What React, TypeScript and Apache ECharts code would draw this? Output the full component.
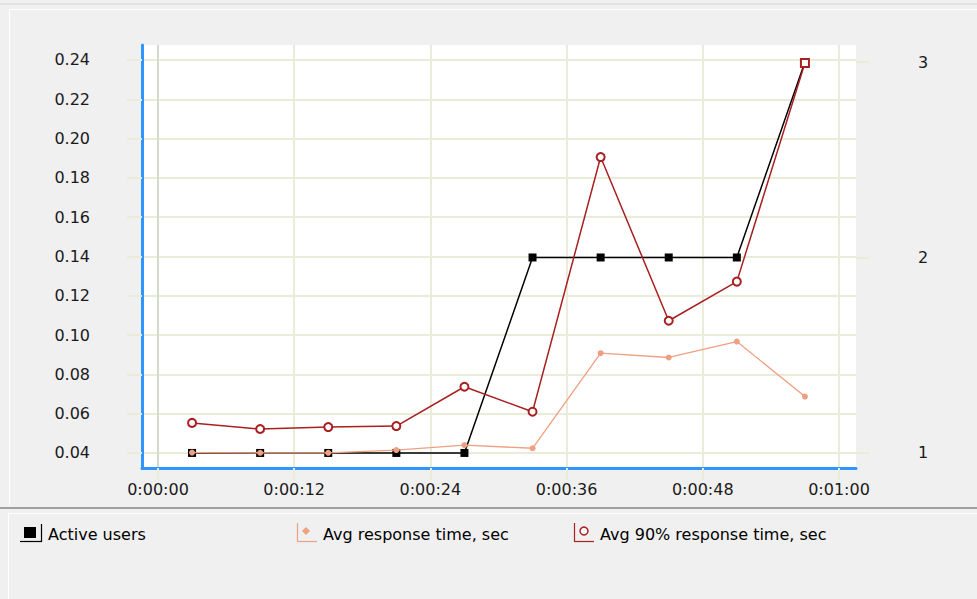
import React, { useEffect, useRef } from "react";
import * as echarts from "echarts";

const timeSec = [3, 9, 15, 21, 27, 33, 39, 45, 51, 57];
const activeUsers = [1, 1, 1, 1, 1, 2, 2, 2, 2, 3];
const avgResponse = [0.0402, 0.0401, 0.0401, 0.0415, 0.044, 0.0424, 0.0908, 0.0886, 0.0967, 0.0687];
const avg90Response = [0.0553, 0.0522, 0.0532, 0.0537, 0.0737, 0.061, 0.1906, 0.1073, 0.1272, 0.2385];
const xTicks = [0, 12, 24, 36, 48, 60];
const leftTicks = [0.04, 0.06, 0.08, 0.1, 0.12, 0.14, 0.16, 0.18, 0.2, 0.22, 0.24];
const rightTicks = [1, 2, 3];
const seriesNames = ["Active users", "Avg response time, sec", "Avg 90% response time, sec"];

const FONT = "DejaVu Sans";
const GRID_COLOR = "#ebebd9";
const BLACK = "#000000";
const SALMON = "#ef9f82";
const DARKRED = "#a8201f";
const AXIS_BLUE = "#2f96ff";

function fmtTime(v: number) {
  const s = Math.round(v);
  const h = Math.floor(s / 3600);
  const m = Math.floor((s % 3600) / 60);
  const sec = s % 60;
  return `${h}:${String(m).padStart(2, "0")}:${String(sec).padStart(2, "0")}`;
}

export default function App() {
  const ref = useRef<HTMLDivElement>(null);
  useEffect(() => {
    if (!ref.current) return;
    const chart = echarts.init(ref.current, null, { renderer: "svg" });
    const pair = (vals: number[]) => timeSec.map((t, i) => [t, vals[i]]);
    const red90 = timeSec.map((t, i) =>
      i === timeSec.length - 1
        ? { value: [t, avg90Response[i]], symbol: "emptyRect", symbolSize: 8 }
        : { value: [t, avg90Response[i]] }
    );
    const legendText = (x: number, text: string) => ({
      type: "text",
      x,
      y: 534,
      style: { text, fill: "#000", font: `16px "${FONT}"`, textVerticalAlign: "middle" },
    });
    chart.setOption({
      animation: false,
      backgroundColor: "#f0f0f0",
      textStyle: { fontFamily: FONT },
      grid: {
        left: 142,
        right: 121,
        top: 45,
        bottom: 131,
        show: true,
        backgroundColor: "#ffffff",
        borderWidth: 0,
      },
      xAxis: {
        type: "value",
        min: -1.41,
        max: 61.5,
        axisLine: { show: true, onZero: false, lineStyle: { color: AXIS_BLUE, width: 3 } },
        axisTick: { show: true, length: 12, customValues: xTicks, lineStyle: { color: GRID_COLOR, width: 2 } },
        axisLabel: {
          customValues: xTicks,
          formatter: (v: number) => fmtTime(v),
          color: "#1a1a1a",
          fontSize: 16,
          fontFamily: FONT,
          margin: 13,
        },
        splitLine: { show: true, lineStyle: { color: ["#d3dccb", GRID_COLOR, GRID_COLOR, GRID_COLOR, GRID_COLOR, GRID_COLOR], width: 2 } },
      },
      yAxis: [
        {
          type: "value",
          position: "left",
          min: 0.03236,
          max: 0.24763,
          axisLine: { show: true, onZero: false, lineStyle: { color: AXIS_BLUE, width: 3 } },
          axisTick: { show: true, length: 15, customValues: leftTicks, lineStyle: { color: GRID_COLOR, width: 2 } },
          axisLabel: {
            customValues: leftTicks,
            formatter: (v: number) => v.toFixed(2),
            color: "#1a1a1a",
            fontSize: 16,
            fontFamily: FONT,
            margin: 52,
          },
          splitLine: { show: true, lineStyle: { color: GRID_COLOR, width: 2 } },
        },
        {
          type: "value",
          position: "right",
          min: 0.923,
          max: 3.087,
          axisLine: { show: false, onZero: false },
          axisTick: { show: true, length: 13, customValues: rightTicks, lineStyle: { color: GRID_COLOR, width: 2 } },
          axisLabel: {
            customValues: rightTicks,
            color: "#1a1a1a",
            fontSize: 16,
            fontFamily: FONT,
            margin: 62,
          },
          splitLine: { show: false },
        },
      ],
      series: [
        {
          name: seriesNames[0],
          type: "line",
          yAxisIndex: 1,
          data: pair(activeUsers),
          symbol: "rect",
          symbolSize: 8,
          lineStyle: { color: BLACK, width: 1.5 },
          itemStyle: { color: BLACK },
          z: 2,
        },
        {
          name: seriesNames[1],
          type: "line",
          yAxisIndex: 0,
          data: pair(avgResponse),
          symbol: "circle",
          symbolSize: 6,
          lineStyle: { color: SALMON, width: 1.3 },
          itemStyle: { color: SALMON },
          z: 3,
        },
        {
          name: seriesNames[2],
          type: "line",
          yAxisIndex: 0,
          data: red90,
          symbol: "emptyCircle",
          symbolSize: 8,
          lineStyle: { color: DARKRED, width: 1.5 },
          itemStyle: { color: DARKRED, borderColor: DARKRED, borderWidth: 1.3 },
          z: 4,
        },
      ],
      graphic: [
        { type: "line", shape: { x1: 0, y1: 4, x2: 977, y2: 4 }, style: { stroke: "#e2e2e2", lineWidth: 2 }, silent: true },
        { type: "line", shape: { x1: 9, y1: 9.5, x2: 977, y2: 9.5 }, style: { stroke: "#ffffff", lineWidth: 1 }, silent: true },
        { type: "line", shape: { x1: 9.5, y1: 9, x2: 9.5, y2: 505 }, style: { stroke: "#ffffff", lineWidth: 1 }, silent: true },
        { type: "line", shape: { x1: 0, y1: 508, x2: 977, y2: 508 }, style: { stroke: "#a0a0a0", lineWidth: 2 }, silent: true },
        { type: "line", shape: { x1: 8, y1: 513.5, x2: 977, y2: 513.5 }, style: { stroke: "#ffffff", lineWidth: 1 }, silent: true },
        { type: "line", shape: { x1: 8.5, y1: 513, x2: 8.5, y2: 599 }, style: { stroke: "#ffffff", lineWidth: 1 }, silent: true },
        // legend item 1
        { type: "rect", shape: { x: 24, y: 527, width: 12, height: 11 }, style: { fill: BLACK } },
        { type: "line", shape: { x1: 41.5, y1: 524, x2: 41.5, y2: 542 }, style: { stroke: BLACK, lineWidth: 1.2 } },
        { type: "line", shape: { x1: 20, y1: 541.5, x2: 42, y2: 541.5 }, style: { stroke: BLACK, lineWidth: 1.2 } },
        legendText(48, seriesNames[0]),
        // legend item 2
        { type: "line", shape: { x1: 297.5, y1: 523, x2: 297.5, y2: 542 }, style: { stroke: SALMON, lineWidth: 1.2 } },
        { type: "line", shape: { x1: 297, y1: 541.5, x2: 317, y2: 541.5 }, style: { stroke: SALMON, lineWidth: 1.2 } },
        { type: "polygon", shape: { points: [[306, 527], [310, 531], [306, 535], [302, 531]] }, style: { fill: SALMON } },
        legendText(323, seriesNames[1]),
        // legend item 3
        { type: "line", shape: { x1: 574.5, y1: 523, x2: 574.5, y2: 542 }, style: { stroke: DARKRED, lineWidth: 1.2 } },
        { type: "line", shape: { x1: 574, y1: 541.5, x2: 594, y2: 541.5 }, style: { stroke: DARKRED, lineWidth: 1.2 } },
        { type: "circle", shape: { cx: 584, cy: 531, r: 4 }, style: { fill: "#ffffff", stroke: DARKRED, lineWidth: 1.5 } },
        legendText(600, seriesNames[2]),
      ],
    });
    return () => chart.dispose();
  }, []);
  return (
    <div
      ref={ref}
      style={{ position: "fixed", left: 0, top: 0, width: 977, height: 599, background: "#f0f0f0" }}
    />
  );
}
